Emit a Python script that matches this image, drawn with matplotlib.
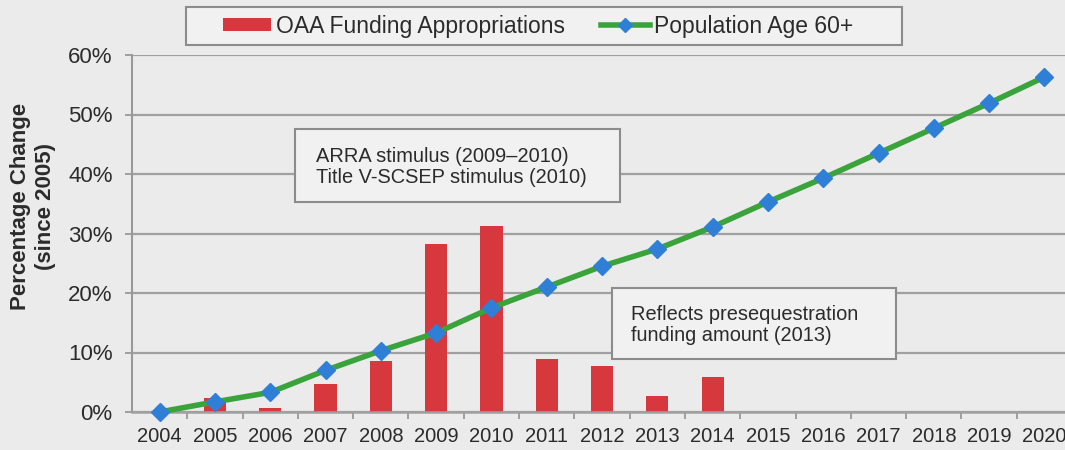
import numpy as np
import matplotlib.pyplot as plt
from matplotlib.patches import Rectangle
from matplotlib.lines import Line2D

plt.rcParams['font.family'] = ['Liberation Sans', 'DejaVu Sans']

years = list(range(2004, 2021))
# percentage change since 2005
population_60 = [0.0, 1.7, 3.3, 7.0, 10.3, 13.3, 17.5, 21.0, 24.5, 27.4,
                 31.1, 35.3, 39.3, 43.5, 47.7, 51.9, 56.3]
funding_years = list(range(2005, 2015))
funding = [2.3, 0.6, 4.7, 8.6, 28.2, 31.3, 8.9, 7.8, 2.7, 5.9]

y_ticks = [0, 10, 20, 30, 40, 50, 60]
y_tick_labels = ['0%', '10%', '20%', '30%', '40%', '50%', '60%']

bg = '#ebebeb'
grid_col = '#a0a0a0'
text_col = '#2b2b2b'
bar_col = '#d6383e'
line_col = '#3ba33b'
marker_col = '#2f7fd6'

W, H = 1065, 450
fig = plt.figure(figsize=(W / 100, H / 100), dpi=100, facecolor=bg)

def fx(px):
    return px / W

def fy(py):
    return 1 - py / H

ax = fig.add_axes([fx(132), fy(412), 1 - fx(132), fy(55) - fy(412)])
ax.set_facecolor(bg)

ax.bar(funding_years, funding, width=0.4, color=bar_col, zorder=2)
ax.plot(years, population_60, color=line_col, linewidth=4, marker='D',
        markersize=9.5, markerfacecolor=marker_col, markeredgecolor=marker_col,
        zorder=3, clip_on=False)

ax.set_xlim(2003.5, 2003.5 + (W - 132) / 55.3)
ax.set_ylim(0, 60)

ax.set_yticks(y_ticks)
ax.set_yticklabels(y_tick_labels)
ax.set_xticks(years)
ax.set_xticklabels([str(y) for y in years])
ax.set_xticks(np.arange(2004.5, 2020, 1), minor=True)

ax.yaxis.grid(True, color=grid_col, linewidth=1.6, zorder=0)
ax.set_axisbelow(True)

for side in ['top', 'right']:
    ax.spines[side].set_visible(False)
ax.spines['left'].set_color('#999999')
ax.spines['left'].set_linewidth(1.5)
ax.spines['bottom'].set_color(grid_col)
ax.spines['bottom'].set_linewidth(1.8)

ax.tick_params(axis='y', length=5, width=1.3, color='#999999', pad=9,
               labelsize=16, labelcolor=text_col)
ax.tick_params(axis='x', which='major', length=0, pad=11,
               labelsize=14.5, labelcolor=text_col)
ax.tick_params(axis='x', which='minor', length=5, width=1.3, color='#999999')

fig.text(fx(33), fy(206), 'Percentage Change\n(since 2005)', rotation=90,
         ha='center', va='center', fontsize=16, fontweight='bold',
         color=text_col, linespacing=1.25)

# annotation boxes
fig.patches.append(Rectangle((fx(295), fy(202)), fx(620) - fx(295), fy(129) - fy(202),
                             transform=fig.transFigure, facecolor='#f1f1f1',
                             edgecolor='#8c8c8c', linewidth=1.5, zorder=5))
fig.text(fx(316), fy(167), 'ARRA stimulus (2009\u20132010)\nTitle V-SCSEP stimulus (2010)',
         ha='left', va='center', fontsize=14.4, color=text_col, linespacing=1.15,
         zorder=6)

fig.patches.append(Rectangle((fx(612), fy(359)), fx(896) - fx(612), fy(288) - fy(359),
                             transform=fig.transFigure, facecolor='#f1f1f1',
                             edgecolor='#8c8c8c', linewidth=1.5, zorder=5))
fig.text(fx(631), fy(325), 'Reflects presequestration\nfunding amount (2013)',
         ha='left', va='center', fontsize=14.4, color=text_col, linespacing=1.15,
         zorder=6)

# legend with its own frame
fig.patches.append(Rectangle((fx(186), fy(45)), fx(902) - fx(186), fy(7) - fy(45),
                             transform=fig.transFigure, facecolor='#f1f1f1',
                             edgecolor='#8c8c8c', linewidth=1.5, zorder=5))
bar_handle = Rectangle((0, 0), 1, 1, facecolor=bar_col)
line_handle = Line2D([], [], color=line_col, linewidth=4, marker='D', markersize=7,
                     markerfacecolor=marker_col, markeredgecolor=marker_col)
leg = fig.legend([bar_handle, line_handle],
                 ['OAA Funding Appropriations', 'Population Age 60+'],
                 loc='center left', bbox_to_anchor=(fx(223), fy(26)), ncol=2,
                 frameon=False, fontsize=16.5, borderpad=0, handlelength=2.1,
                 handleheight=0.5, handletextpad=0.2, columnspacing=1.6,
                 numpoints=1, borderaxespad=0)
for t in leg.get_texts():
    t.set_color(text_col)
leg.set_zorder(7)

fig.savefig('out.png', dpi=100, facecolor=bg)
